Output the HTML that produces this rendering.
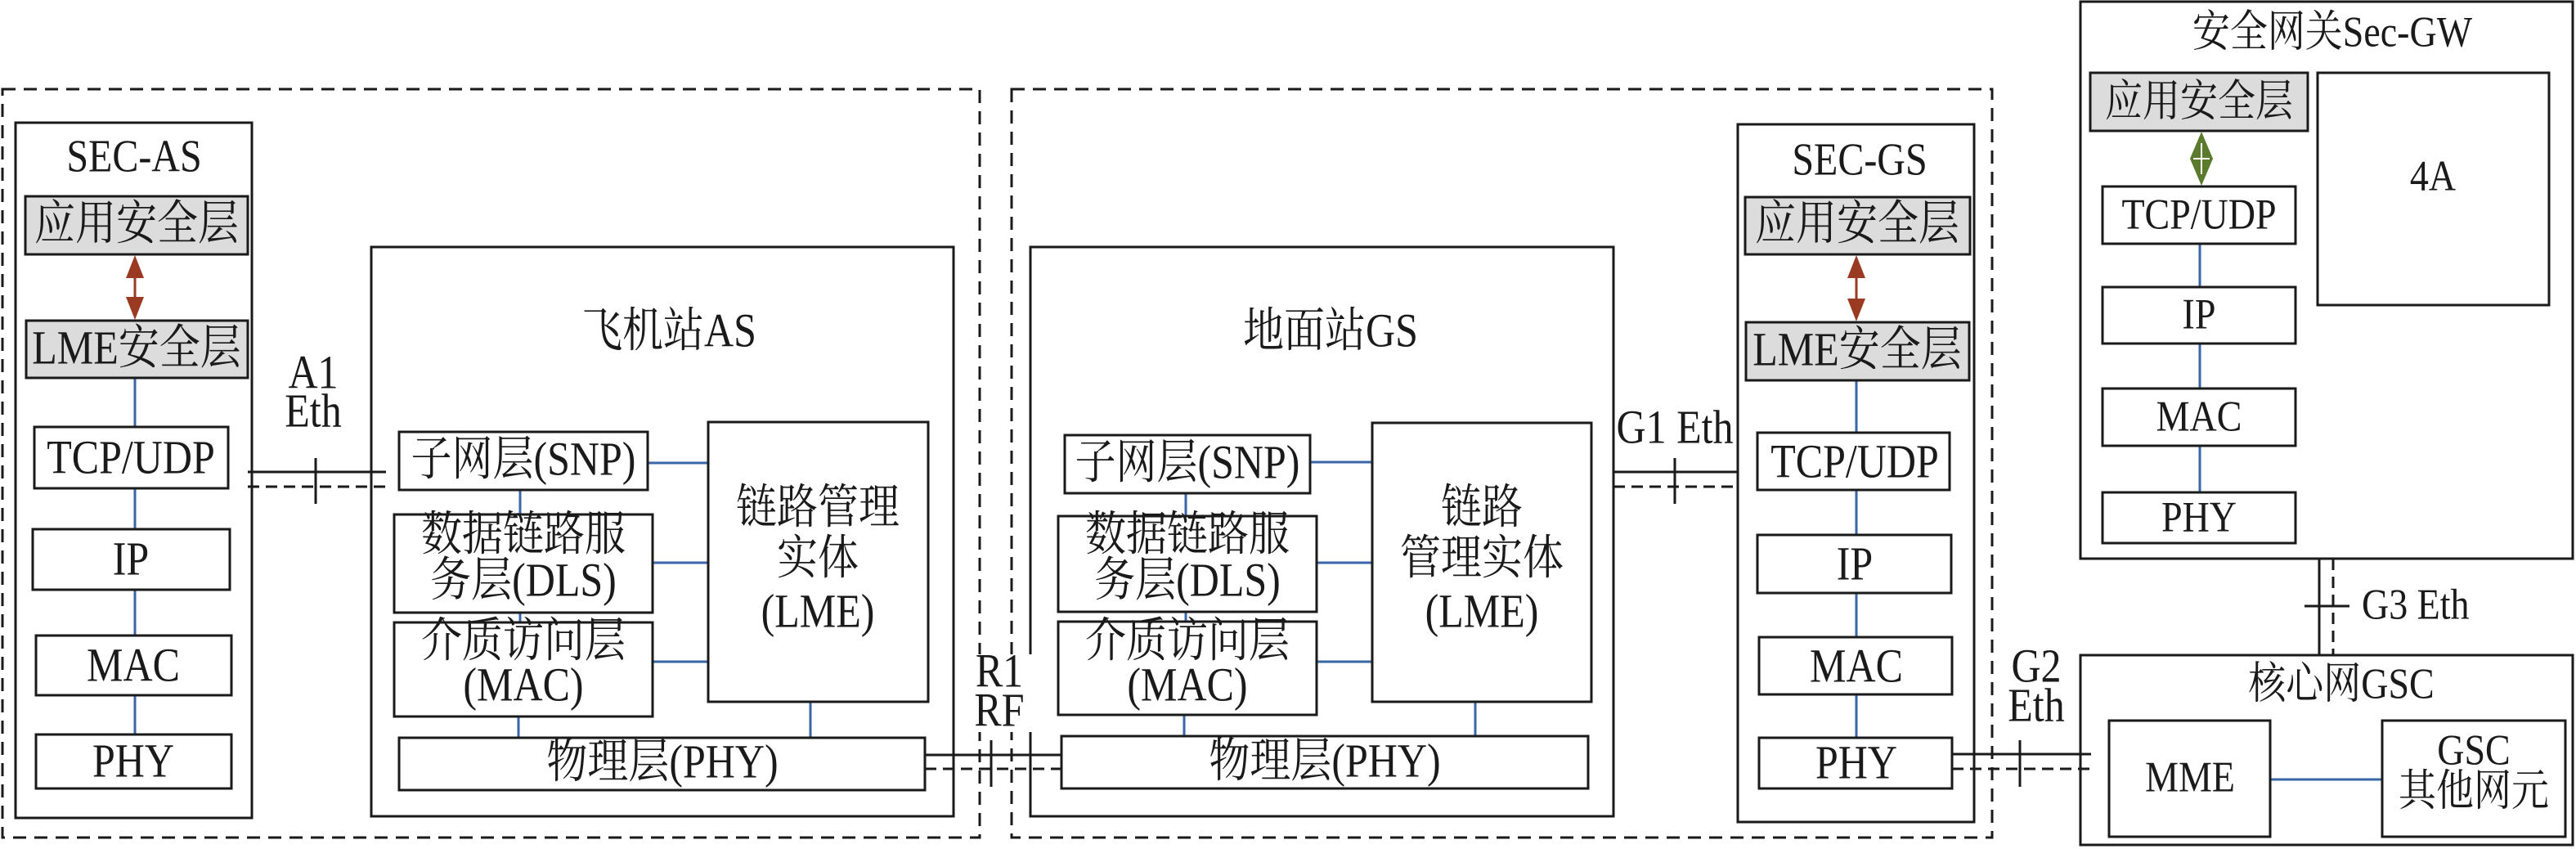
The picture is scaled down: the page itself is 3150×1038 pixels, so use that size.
<!DOCTYPE html>
<html><head><meta charset="utf-8"><style>
html,body{margin:0;padding:0;background:#fff;}
svg{display:block;}
text{font-family:"Liberation Serif","Noto Serif CJK SC",serif;fill:#1a1a1a;text-anchor:middle;transform-box:fill-box;transform-origin:50% 85%;transform:scaleY(1.16);}
</style></head><body>
<svg width="3150" height="1038" viewBox="0 0 3150 1038" xmlns="http://www.w3.org/2000/svg">
<g fill="none" stroke="#1a1a1a" stroke-width="3">
<rect x="3" y="109" width="1195" height="915" stroke-dasharray="16,10"/>
<rect x="1237" y="109" width="1199" height="915" stroke-dasharray="16,10"/>
<rect x="19" y="150" width="289" height="850"/>
<rect x="454" y="302" width="712" height="696"/>
<rect x="1260" y="302" width="713" height="696"/>
<rect x="2125" y="152" width="289" height="853"/>
<rect x="2544" y="2" width="602" height="681"/>
<rect x="2544" y="801" width="602" height="232"/>
</g>
<rect x="1195" y="800" width="70" height="95" fill="#fff"/>

<g stroke="#3a66a8" stroke-width="3">
<line x1="165" y1="462" x2="165" y2="522"/>
<line x1="165" y1="597" x2="165" y2="647"/>
<line x1="165" y1="721" x2="165" y2="777"/>
<line x1="165" y1="850" x2="165" y2="898"/>
<line x1="792" y1="566" x2="866" y2="566"/>
<line x1="798" y1="688" x2="866" y2="688"/>
<line x1="798" y1="809" x2="866" y2="809"/>
<line x1="636" y1="599" x2="636" y2="629"/>
<line x1="636" y1="749" x2="636" y2="761"/>
<line x1="634" y1="876" x2="634" y2="902"/>
<line x1="991" y1="858" x2="991" y2="902"/>
<line x1="1602" y1="565" x2="1678" y2="565"/>
<line x1="1610" y1="688" x2="1678" y2="688"/>
<line x1="1610" y1="809" x2="1678" y2="809"/>
<line x1="1450" y1="603" x2="1450" y2="631"/>
<line x1="1450" y1="748" x2="1450" y2="760"/>
<line x1="1448" y1="874" x2="1448" y2="900"/>
<line x1="1804" y1="858" x2="1804" y2="900"/>
<line x1="2270" y1="465" x2="2270" y2="529"/>
<line x1="2270" y1="599" x2="2270" y2="654"/>
<line x1="2270" y1="725" x2="2270" y2="779"/>
<line x1="2270" y1="849" x2="2270" y2="902"/>
<line x1="2690" y1="298" x2="2690" y2="351"/>
<line x1="2690" y1="420" x2="2690" y2="475"/>
<line x1="2690" y1="545" x2="2690" y2="602"/>
<line x1="2776" y1="953" x2="2913" y2="953"/>
</g>

<g stroke="#1a1a1a" stroke-width="3" fill="none">
<line x1="303" y1="577" x2="472" y2="577"/>
<line x1="303" y1="595" x2="472" y2="595" stroke-dasharray="14,8"/>
<line x1="386" y1="560" x2="386" y2="616"/>
<line x1="1973" y1="577" x2="2125" y2="577"/>
<line x1="1973" y1="595" x2="2125" y2="595" stroke-dasharray="14,8"/>
<line x1="2048" y1="560" x2="2048" y2="616"/>
<line x1="1131" y1="923" x2="1298" y2="923"/>
<line x1="1131" y1="940" x2="1298" y2="940" stroke-dasharray="14,8"/>
<line x1="1212" y1="905" x2="1212" y2="962"/>
<line x1="2387" y1="922" x2="2557" y2="922"/>
<line x1="2387" y1="940" x2="2557" y2="940" stroke-dasharray="14,8"/>
<line x1="2470" y1="905" x2="2470" y2="962"/>
<line x1="2836" y1="683" x2="2836" y2="801"/>
<line x1="2853" y1="683" x2="2853" y2="801" stroke-dasharray="14,8"/>
<line x1="2818" y1="741" x2="2873" y2="741"/>
</g>

<g stroke="#1a1a1a" stroke-width="3">
<rect x="31" y="240" width="272" height="71" fill="#dcdcdc"/>
<rect x="32" y="392" width="271" height="70" fill="#dcdcdc"/>
<rect x="2134" y="241" width="275" height="70" fill="#dcdcdc"/>
<rect x="2135" y="394" width="273" height="71" fill="#dcdcdc"/>
<rect x="2556" y="89" width="266" height="71" fill="#dcdcdc"/>
<g fill="#fff">
<rect x="42" y="522" width="237" height="75"/>
<rect x="40" y="647" width="241" height="74"/>
<rect x="44" y="777" width="239" height="73"/>
<rect x="44" y="898" width="239" height="66"/>
<rect x="488" y="528" width="304" height="71"/>
<rect x="482" y="629" width="316" height="120"/>
<rect x="482" y="761" width="316" height="115"/>
<rect x="866" y="516" width="269" height="342"/>
<rect x="488" y="902" width="643" height="64"/>
<rect x="1302" y="532" width="300" height="71"/>
<rect x="1294" y="631" width="316" height="117"/>
<rect x="1294" y="760" width="316" height="114"/>
<rect x="1678" y="517" width="268" height="341"/>
<rect x="1298" y="900" width="644" height="64"/>
<rect x="2149" y="529" width="235" height="70"/>
<rect x="2149" y="654" width="237" height="71"/>
<rect x="2151" y="779" width="236" height="70"/>
<rect x="2151" y="902" width="236" height="62"/>
<rect x="2571" y="228" width="236" height="70"/>
<rect x="2571" y="351" width="236" height="69"/>
<rect x="2571" y="475" width="236" height="70"/>
<rect x="2571" y="602" width="236" height="62"/>
<rect x="2834" y="89" width="283" height="284"/>
<rect x="2579" y="881" width="197" height="142"/>
<rect x="2913" y="881" width="224" height="142"/>
</g>
</g>

<g stroke-width="3">
<line x1="165" y1="325" x2="165" y2="378" stroke="#9b3a22"/>
<polygon points="165,312 154,340 176,340" fill="#9b3a22"/>
<polygon points="165,391 154,363 176,363" fill="#9b3a22"/>
<line x1="2270" y1="325" x2="2270" y2="380" stroke="#9b3a22"/>
<polygon points="2270,312 2259,340 2281,340" fill="#9b3a22"/>
<polygon points="2270,393 2259,365 2281,365" fill="#9b3a22"/>
<polygon points="2692,161 2678,194 2706,194" fill="#5a7a2e"/>
<polygon points="2692,227 2678,194 2706,194" fill="#5a7a2e"/>
<line x1="2692" y1="175" x2="2692" y2="213" stroke="#fff" stroke-width="2"/>
<line x1="2682" y1="194" x2="2702" y2="194" stroke="#fff" stroke-width="2"/>
</g>

<g font-size="50">
<text x="164" y="210" font-size="48">SEC-AS</text>
<text x="167" y="293">应用安全层</text>
<text x="167" y="445">LME安全层</text>
<text x="160" y="579">TCP/UDP</text>
<text x="160" y="703">IP</text>
<text x="163" y="833">MAC</text>
<text x="163" y="950">PHY</text>
<text x="383" y="475">A1</text>
<text x="383" y="522">Eth</text>
<text x="818" y="424">飞机站AS</text>
<text x="640" y="581">子网层(SNP)</text>
<text x="640" y="673">数据链路服</text>
<text x="640" y="729">务层(DLS)</text>
<text x="640" y="803">介质访问层</text>
<text x="640" y="857">(MAC)</text>
<text x="1000" y="640">链路管理</text>
<text x="1000" y="702">实体</text>
<text x="1000" y="767">(LME)</text>
<text x="810" y="951">物理层(PHY)</text>
<text x="1222" y="840">R1</text>
<text x="1222" y="888">RF</text>
<text x="1627" y="424">地面站GS</text>
<text x="1452" y="585">子网层(SNP)</text>
<text x="1452" y="673">数据链路服</text>
<text x="1452" y="729">务层(DLS)</text>
<text x="1452" y="803">介质访问层</text>
<text x="1452" y="857">(MAC)</text>
<text x="1812" y="640">链路</text>
<text x="1812" y="702">管理实体</text>
<text x="1812" y="767">(LME)</text>
<text x="1620" y="950">物理层(PHY)</text>
<text x="2048" y="542">G1 Eth</text>
<text x="2274" y="214" font-size="48">SEC-GS</text>
<text x="2271" y="293">应用安全层</text>
<text x="2271" y="447">LME安全层</text>
<text x="2268" y="584">TCP/UDP</text>
<text x="2268" y="709">IP</text>
<text x="2270" y="834">MAC</text>
<text x="2270" y="952">PHY</text>
<text x="2490" y="834">G2</text>
<text x="2490" y="882">Eth</text>
<text x="2852" y="57" font-size="46">安全网关Sec-GW</text>
<text x="2689" y="142" font-size="46">应用安全层</text>
<text x="2689" y="280" font-size="46">TCP/UDP</text>
<text x="2689" y="402" font-size="46">IP</text>
<text x="2689" y="527" font-size="46">MAC</text>
<text x="2689" y="650" font-size="46">PHY</text>
<text x="2975" y="233" font-size="46">4A</text>
<text x="2888" y="757" font-size="46" style="text-anchor:start">G3 Eth</text>
<text x="2863" y="854" font-size="46">核心网GSC</text>
<text x="2678" y="968" font-size="46">MME</text>
<text x="3025" y="935" font-size="46">GSC</text>
<text x="3025" y="985" font-size="46">其他网元</text>
</g>
</svg>
</body></html>
